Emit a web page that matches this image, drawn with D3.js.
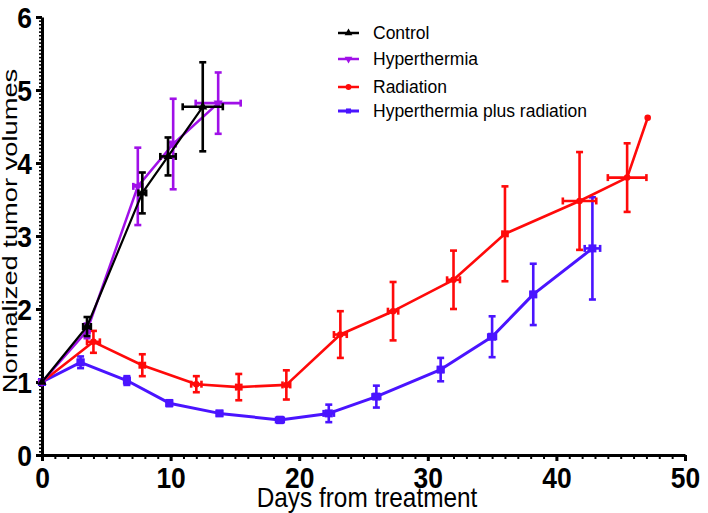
<!DOCTYPE html>
<html><head><meta charset="utf-8">
<script src="https://cdn.jsdelivr.net/npm/d3@7"></script>
<style>
html,body{margin:0;padding:0;background:#fff;}
svg{display:block;}
</style></head>
<body>
<script>
// ---- data ----
const seriesNames = ["Control","Hyperthermia","Radiation","Hyperthermia plus radiation"];
const xTicks = [0,10,20,30,40,50];
const yTicks = [0,1,2,3,4,5,6];

const controlDays = [0, 3.5, 7.8, 9.8, 12.5];
const controlVol  = [1, 1.76, 3.59, 4.09, 4.77];
const controlErr  = [0, 0.13, 0.28, 0.26, 0.61];
const controlDayErr = [0, 0.3, 0.3, 0.6, 1.56];

const hyperDays = [0, 3.5, 7.45, 10.2, 13.7];
const hyperVol  = [1, 1.7, 3.68, 4.26, 4.82];
const hyperErr  = [0, 0.1, 0.53, 0.62, 0.42];
const hyperDayErr = [0, 0.2, 0.35, 0.2, 1.75];

const radDays = [0, 4.0, 7.8, 12.0, 15.3, 19.0, 23.2, 27.3, 32.0, 36.0, 41.8, 45.5, 47.1];
const radVol  = [1, 1.55, 1.23, 0.97, 0.93, 0.96, 1.65, 1.97, 2.4, 3.03, 3.48, 3.8, 4.62];
const radErr  = [0, 0.15, 0.15, 0.11, 0.18, 0.2, 0.32, 0.4, 0.4, 0.65, 0.67, 0.47, 0];
const radDayErr = [0, 0.5, 0.2, 0.4, 0.2, 0.3, 0.5, 0.4, 0.5, 0.2, 1.3, 1.5, 0];

const hrDays = [0, 3.0, 6.6, 9.9, 13.8, 18.5, 22.3, 26.0, 31.0, 35.0, 38.2, 42.8];
const hrVol  = [1, 1.27, 1.02, 0.71, 0.57, 0.48, 0.57, 0.8, 1.17, 1.62, 2.2, 2.83];
const hrErr  = [0, 0.08, 0.06, 0.04, 0.03, 0.04, 0.12, 0.15, 0.16, 0.28, 0.42, 0.7];
const hrDayErr = [0, 0.2, 0.2, 0.2, 0.2, 0.3, 0.4, 0.3, 0.2, 0.3, 0.2, 0.6];

const colors = ["#000000", "#a010e8", "#ff0a0a", "#4a14ff"];

// ---- layout ----
const W = 708, H = 513;
const svg = d3.select("body").append("svg").attr("width", W).attr("height", H);

const x = d3.scaleLinear().domain([0, 50]).range([42, 685]);
const y = d3.scaleLinear().domain([0, 6]).range([455, 17]);

const font = "'Liberation Sans',Arial,sans-serif";
const narrow = 0.88;

// minor ticks
const yMinor = d3.range(0, 120.5, 1).map(v => v / 20);
const xMinor = d3.range(0, 51, 1);

const gyMinor = svg.append("g").attr("transform", `translate(${x(0)},0)`)
  .call(d3.axisLeft(y).tickValues(yMinor).tickSize(3).tickFormat(""));
gyMinor.select(".domain").remove();
gyMinor.selectAll("line").attr("stroke", "#000").attr("stroke-width", 1.6);

const gxMinor = svg.append("g").attr("transform", `translate(0,${y(0)})`)
  .call(d3.axisBottom(x).tickValues(xMinor).tickSize(4).tickFormat(""));
gxMinor.select(".domain").remove();
gxMinor.selectAll("line").attr("stroke", "#000").attr("stroke-width", 2);

// major axes
const gy = svg.append("g").attr("transform", `translate(${x(0)},0)`)
  .call(d3.axisLeft(y).tickValues(yTicks).tickSize(6).tickSizeOuter(0).tickFormat(d3.format("d")));
gy.select(".domain").attr("stroke", "#000").attr("stroke-width", 3);
gy.selectAll("line").attr("stroke", "#000").attr("stroke-width", 3);
gy.selectAll("text").attr("font-family", font).attr("font-weight", "bold")
  .attr("font-size", 30).attr("fill", "#000")
  .attr("x", -10 / narrow).attr("dy", "0.36em")
  .attr("transform", `scale(${narrow},1)`);

const gx = svg.append("g").attr("transform", `translate(0,${y(0)})`)
  .call(d3.axisBottom(x).tickValues(xTicks).tickSize(6).tickSizeOuter(0).tickFormat(d3.format("d")));
gx.select(".domain").attr("stroke", "#000").attr("stroke-width", 3);
gx.selectAll("line").attr("stroke", "#000").attr("stroke-width", 3);
gx.selectAll("text").attr("font-family", font).attr("font-weight", "bold")
  .attr("font-size", 30).attr("fill", "#000")
  .attr("y", 33).attr("dy", 0)
  .attr("transform", `scale(${narrow},1)`);

// axis titles
svg.append("text").attr("transform", `translate(367,507) scale(0.87,1)`).attr("text-anchor", "middle")
  .attr("font-family", font).attr("font-size", 28).attr("fill", "#000")
  .text("Days from treatment");
svg.append("text").attr("transform", `translate(17,231) rotate(-90) scale(1.3,1)`).attr("text-anchor", "middle")
  .attr("font-family", font).attr("font-size", 21).attr("fill", "#000")
  .text("Normalized tumor volumes");

// ---- series ----
const series = [
  {days: controlDays, vol: controlVol, err: controlErr, dErr: controlDayErr, marker: "triUp", lw: 2.2, ms: 36},
  {days: hyperDays, vol: hyperVol, err: hyperErr, dErr: hyperDayErr, marker: "triDown", lw: 2.5, ms: 36},
  {days: radDays, vol: radVol, err: radErr, dErr: radDayErr, marker: "circle", lw: 2.6, ms: 34},
  {days: hrDays, vol: hrVol, err: hrErr, dErr: hrDayErr, marker: "square", lw: 3, ms: 64}
];

const drawOrder = [3, 2, 1, 0];
const line = d3.line().x(d => x(d.d)).y(d => y(d.v));

function markerPath(type, size) {
  const sym = {triUp: d3.symbolTriangle, triDown: d3.symbolTriangle, circle: d3.symbolCircle, square: d3.symbolSquare}[type];
  return d3.symbol().type(sym).size(size)();
}

drawOrder.forEach(i => {
  const s = series[i];
  const c = colors[i];
  const pts = s.days.map((d, k) => ({d, v: s.vol[k], e: s.err[k], de: s.dErr[k]}));
  const g = svg.append("g");
  g.append("path").datum(pts).attr("d", line).attr("fill", "none").attr("stroke", c).attr("stroke-width", s.lw).attr("stroke-linejoin", "round");
  const cap = 3.5;
  pts.forEach(p => {
    if (p.e > 0) {
      g.append("line").attr("x1", x(p.d)).attr("x2", x(p.d)).attr("y1", y(p.v - p.e)).attr("y2", y(p.v + p.e)).attr("stroke", c).attr("stroke-width", 2.6);
      [p.v - p.e, p.v + p.e].forEach(v => g.append("line").attr("x1", x(p.d) - cap).attr("x2", x(p.d) + cap).attr("y1", y(v)).attr("y2", y(v)).attr("stroke", c).attr("stroke-width", 2.6));
    }
    if (p.de > 0) {
      g.append("line").attr("x1", x(p.d - p.de)).attr("x2", x(p.d + p.de)).attr("y1", y(p.v)).attr("y2", y(p.v)).attr("stroke", c).attr("stroke-width", 2.6);
      [p.d - p.de, p.d + p.de].forEach(d => g.append("line").attr("x1", x(d)).attr("x2", x(d)).attr("y1", y(p.v) - cap).attr("y2", y(p.v) + cap).attr("stroke", c).attr("stroke-width", 2.6));
    }
  });
  g.selectAll("path.m").data(pts).enter().append("path").attr("class", "m")
    .attr("d", markerPath(s.marker, s.ms))
    .attr("transform", p => `translate(${x(p.d)},${y(p.v)})${s.marker === "triDown" ? " rotate(180)" : ""}`)
    .attr("fill", c);
});

// ---- legend ----
const legY = [33, 59, 87, 111];
const leg = svg.append("g");
seriesNames.forEach((n, i) => {
  const ly = legY[i];
  leg.append("line").attr("x1", 338).attr("x2", 359).attr("y1", ly).attr("y2", ly).attr("stroke", colors[i]).attr("stroke-width", i === 3 ? 3 : 2.5);
  leg.append("path").attr("d", markerPath(series[i].marker, 26))
    .attr("transform", `translate(348.5,${ly})${series[i].marker === "triDown" ? " rotate(180)" : ""}`).attr("fill", colors[i]);
  leg.append("text").attr("x", 373).attr("y", ly).attr("dy", "0.36em")
    .attr("font-family", font).attr("font-size", 17.5).attr("fill", "#000").text(n);
});
</script>
</body></html>
